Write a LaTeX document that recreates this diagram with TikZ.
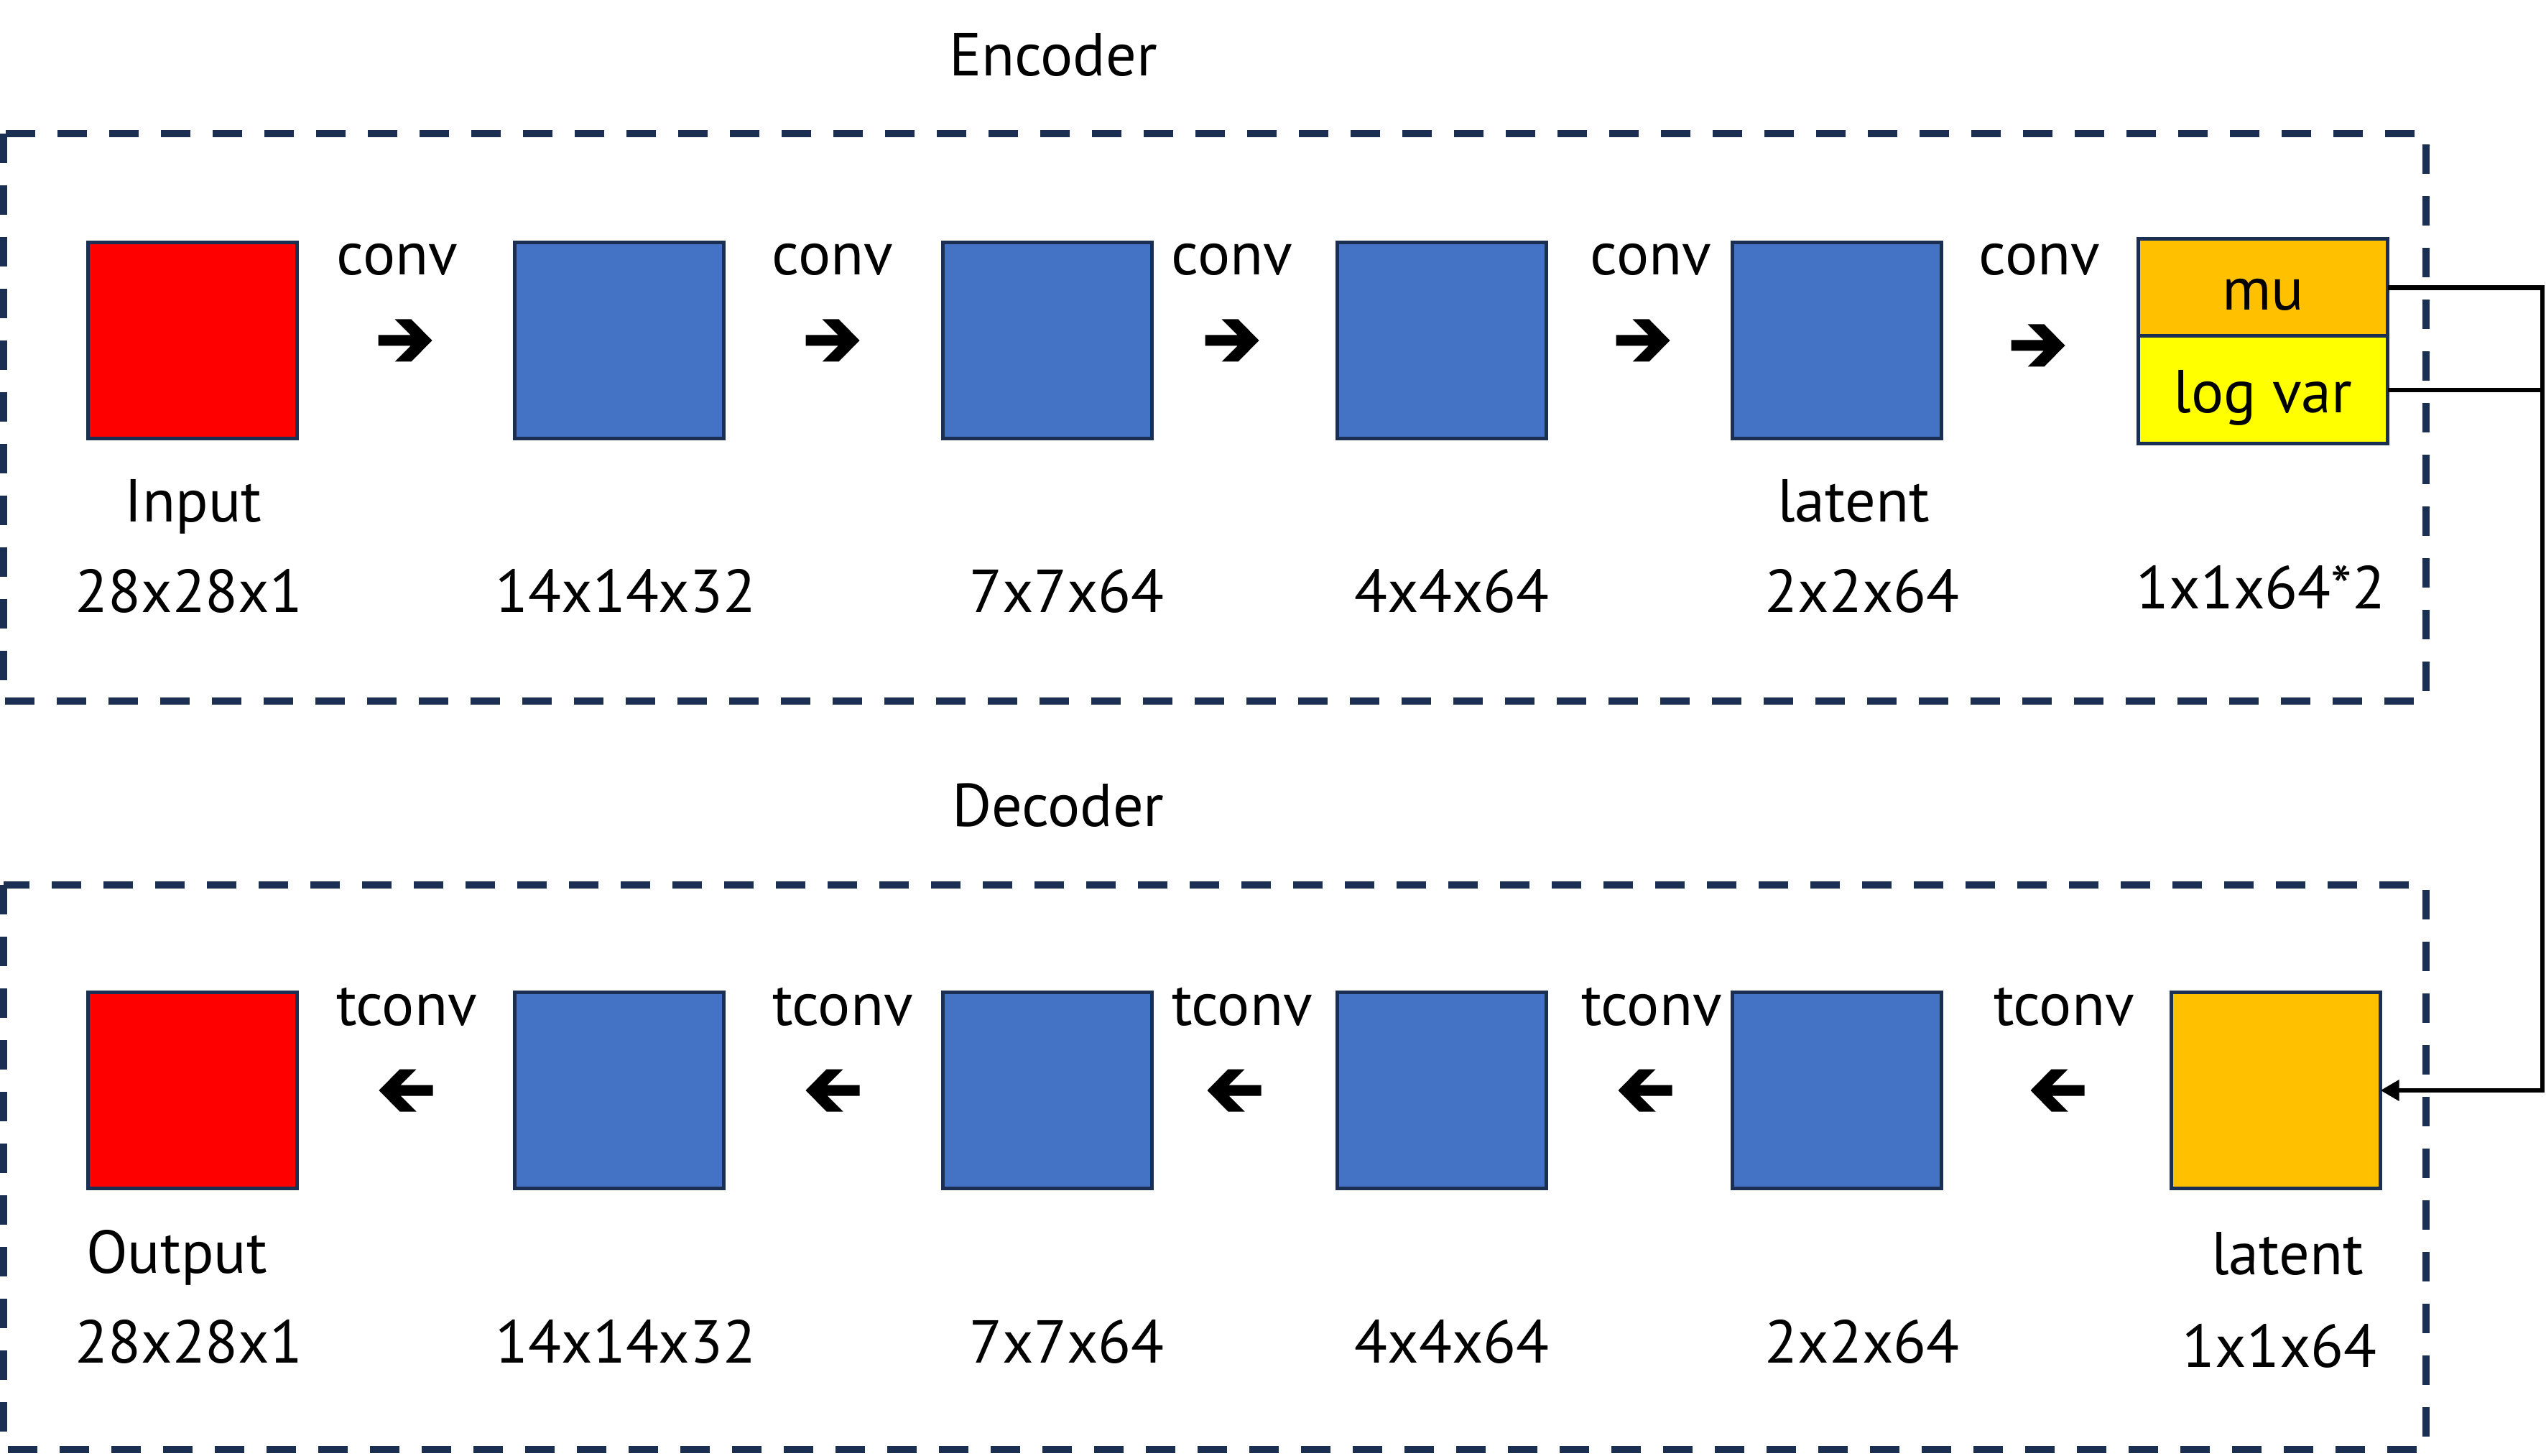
\documentclass[tikz,border=0pt]{standalone}
\usepackage{fontspec}
\setmainfont{PT Sans}
\usetikzlibrary{arrows.meta,positioning}

\definecolor{framenavy}{HTML}{1B2F52}
\definecolor{inred}{HTML}{FF0000}
\definecolor{midblue}{HTML}{4472C4}
\definecolor{latorange}{HTML}{FFC000}
\definecolor{varyellow}{HTML}{FFFF00}

\tikzset{
  layer/.style={draw=framenavy, line width=0.05cm, minimum width=2.91cm,
    minimum height=2.73cm, inner sep=0pt, outer sep=0pt},
  cell/.style={draw=framenavy, line width=0.05cm, minimum width=3.47cm,
    inner sep=0pt, outer sep=0pt, text height=0.63cm, text depth=0pt},
  frame/.style={draw=framenavy, line width=0.1cm, dash pattern=on 0.41cm off 0.31cm},
  lbl/.style={anchor=base, inner sep=0pt},
  link/.style={line width=0.065cm},
  fat arrow/.pic={
    \fill (-0.375,0.075) -- (0.075,0.075) -- (-0.145,0.295) -- (0.085,0.295)
      -- (0.375,0) -- (0.085,-0.295) -- (-0.145,-0.295) -- (0.075,-0.075)
      -- (-0.375,-0.075) -- cycle;
  }
}

\begin{document}
\begin{tikzpicture}[every node/.style={font=\fontsize{24}{28}\selectfont}]
  \useasboundingbox (0,0) rectangle (35.44,-20.27);
  \draw[frame] (0.05,-1.86) rectangle (33.77,-9.76);
  \draw[frame] (0.05,-12.32) rectangle (33.77,-20.18);
  \node[lbl] (enc) at (14.66,-1.06) {Encoder};
  \node[lbl] (dec) at (14.73,-11.50) {Decoder};

  \node[layer, fill=inred] (e1) at (2.68,-4.74) {};
  \foreach \x [count=\i from 2] in {8.62,14.58,20.07,25.57}
    \node[layer, fill=midblue] (e\i) at (\x,-4.74) {};
  \node[cell, fill=latorange, minimum height=1.35cm, anchor=north] (mu) at (31.50,-3.33) {mu};
  \node[cell, fill=varyellow, minimum height=1.50cm, anchor=north] (logvar) at (mu.south) {log var};

  \node[layer, fill=inred] (d1) at (2.68,-15.18) {};
  \foreach \x [count=\i from 2] in {8.62,14.58,20.07,25.57}
    \node[layer, fill=midblue] (d\i) at (\x,-15.18) {};
  \node[layer, fill=latorange] (lat) at (31.68,-15.18) {};

  \foreach \x [count=\i] in {5.53,11.59,17.15,22.98,28.39}
    \node[lbl] (conv\i) at (\x,-3.83) {conv};
  \foreach \x [count=\i] in {5.66,11.73,17.29,22.99,28.73}
    \node[lbl] (tconv\i) at (\x,-14.27) {tconv};
  \foreach \x/\y in {5.64/-4.74,11.59/-4.74,17.15/-4.74,22.87/-4.74,28.37/-4.81}
    \pic at (\x,\y) {fat arrow};
  \foreach \x in {5.65,11.59,17.18,22.90,28.64}
    \pic[xscale=-1] at (\x,-15.18) {fat arrow};

  \node[lbl] (inlbl) at (2.69,-7.27) {Input};
  \node[lbl] (elat) at (25.80,-7.27) {latent};
  \foreach \x/\t [count=\i] in {2.63/28x28x1,8.71/14x14x32,14.85/7x7x64,20.21/4x4x64,25.92/2x2x64}
    \node[lbl] (esz\i) at (\x,-8.53) {\t};
  \node[lbl] (esz6) at (31.47,-8.48) {1x1x64*2};

  \node[lbl] (outlbl) at (2.46,-17.72) {Output};
  \node[lbl] (dlat) at (31.84,-17.74) {latent};
  \foreach \x/\t [count=\i] in {2.63/28x28x1,8.71/14x14x32,14.85/7x7x64,20.21/4x4x64,25.92/2x2x64}
    \node[lbl] (dsz\i) at (\x,-18.97) {\t};
  \node[lbl] (dsz6) at (31.73,-19.03) {1x1x64};

  \coordinate (rail) at (35.39,0);
  \draw[link, -{Triangle[length=0.26cm, width=0.28cm]}] (mu.east) -- (mu.east -| rail) |- (lat.east);
  \draw[link] (logvar.east) -- (logvar.east -| rail);
\end{tikzpicture}
\end{document}
